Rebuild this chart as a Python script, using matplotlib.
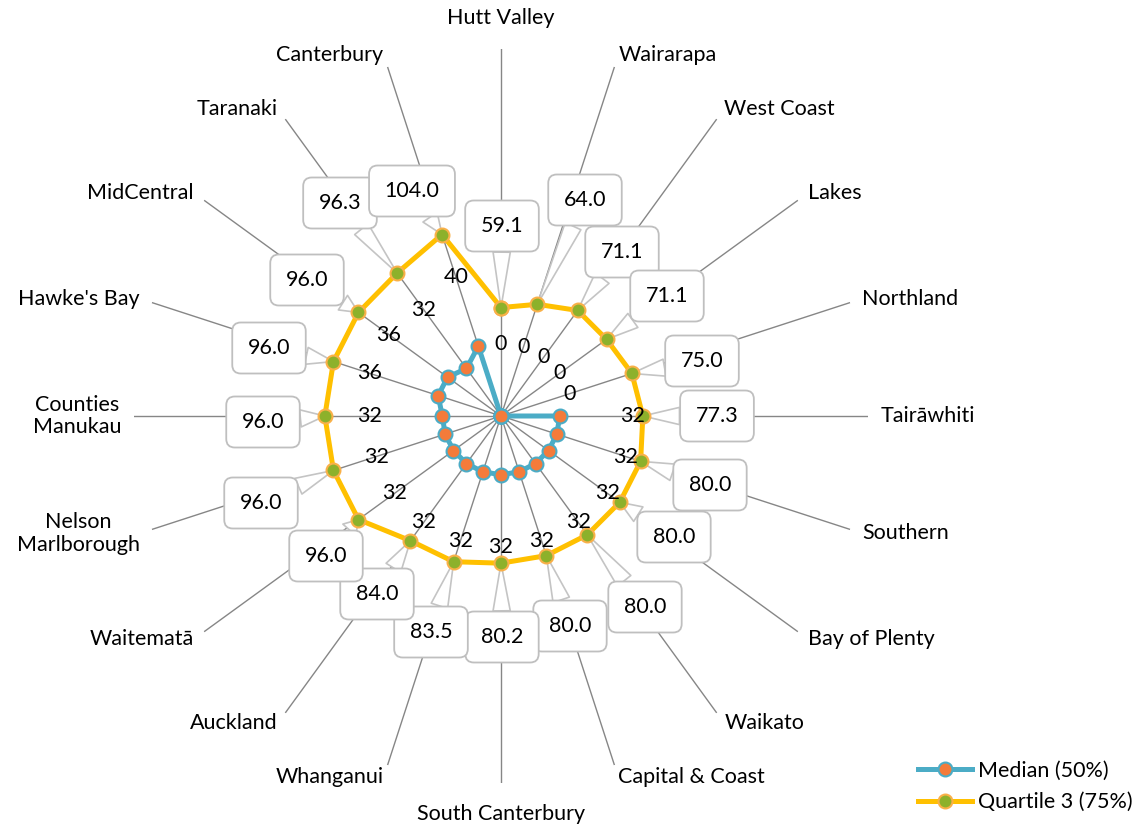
import matplotlib
matplotlib.use('Agg')
import matplotlib.pyplot as plt
import numpy as np

plt.rcParams['font.family'] = ['Lato', 'DejaVu Sans']

# categories clockwise from the top
regions = ['Hutt Valley', 'Wairarapa', 'West Coast', 'Lakes', 'Northland',
           'Tairāwhiti', 'Southern', 'Bay of Plenty', 'Waikato', 'Capital & Coast',
           'South Canterbury', 'Whanganui', 'Auckland', 'Waitematā',
           'Nelson\nMarlborough', 'Counties\nManukau', "Hawke's Bay", 'MidCentral',
           'Taranaki', 'Canterbury']
median = [0, 0, 0, 0, 0, 32, 32, 32, 32, 32,
          32, 32, 32, 32, 32, 32, 36, 36, 32, 40]
q3 = [59.1, 64.0, 71.1, 71.1, 75.0, 77.3, 80.0, 80.0, 80.0, 80.0,
      80.2, 83.5, 84.0, 96.0, 96.0, 96.0, 96.0, 96.0, 96.3, 104.0]

# callout box centres for the Q3 labels (figure pixels, from top-left)
box_x = [502, 585, 622, 667, 702, 717, 710, 674, 645, 570,
         502, 431, 377, 326, 261, 263, 269, 307, 340, 412]
box_y = [226, 200, 252, 296, 361, 416, 485, 537, 607, 626,
         637, 632, 594, 556, 503, 422, 348, 280, 203, 191]

W, H = 1141, 826
fig = plt.figure(figsize=(W / 100, H / 100), dpi=100)
cx, cy, R = 501, 416, 367
ax = fig.add_axes([(cx - R) / W, (H - cy - R) / H, 2 * R / W, 2 * R / H],
                  projection='polar')
ax.set_theta_offset(np.pi / 2)
ax.set_theta_direction(-1)
ax.set_ylim(0, 200)

n = len(regions)
theta = np.arange(n) * 2 * np.pi / n
ax.set_xticks(theta)
ax.set_xticklabels([])
ax.set_yticks([])
ax.xaxis.grid(True, color='#868686', lw=1.0)
ax.spines['polar'].set_visible(False)
ax.set_facecolor('none')

tc = np.append(theta, theta[0])
l1, = ax.plot(tc, median + median[:1], color='#4BACC6', lw=3.6, marker='o',
              ms=10, mfc='#F47B3A', mec='#4BACC6', mew=1.5, zorder=5,
              label='Median (50%)')
l2, = ax.plot(tc, q3 + q3[:1], color='#FFC000', lw=3.6, marker='o',
              ms=10, mfc='#8DB12B', mec='#F9B048', mew=1.5, zorder=5,
              label='Quartile 3 (75%)')

fs = 15.5
# category labels
for t, name in zip(theta, regions):
    s = np.sin(t)
    if abs(s) < 0.1:
        ha, r = 'center', 217
    else:
        ha, r = ('left' if s > 0 else 'right'), 207
    ax.text(t, r, name, ha=ha, va='center', fontsize=fs, color='#000000',
            multialignment='center', linespacing=1.15, clip_on=False)

# median value labels
for t, v in zip(theta, median):
    ax.text(t, v + 39.5, f'{v:g}', ha='center', va='center', fontsize=fs,
            color='#000000', zorder=6)

# Q3 callouts
for t, v, bx, by in zip(theta, q3, box_x, box_y):
    ax.annotate(f'{v:.1f}', xy=(t, v), xytext=(bx, H - by),
                textcoords='figure pixels', ha='center', va='center',
                fontsize=fs, zorder=3,
                bbox=dict(boxstyle='round,pad=0.72,rounding_size=0.4',
                          fc='white', ec='#BFBFBF', lw=1.3),
                arrowprops=dict(arrowstyle='wedge,tail_width=0.8,shrink_factor=0.5',
                                fc='white', ec='#C4C4C4', lw=1.2,
                                shrinkA=0, shrinkB=0))

fig.legend(handles=[l1, l2], loc='upper left',
           bbox_to_anchor=(899 / W, 1 - 741 / H), frameon=False,
           fontsize=fs, handlelength=2.5, handletextpad=0.25,
           labelspacing=0.55, numpoints=1)

fig.savefig('out.png', dpi=100)
